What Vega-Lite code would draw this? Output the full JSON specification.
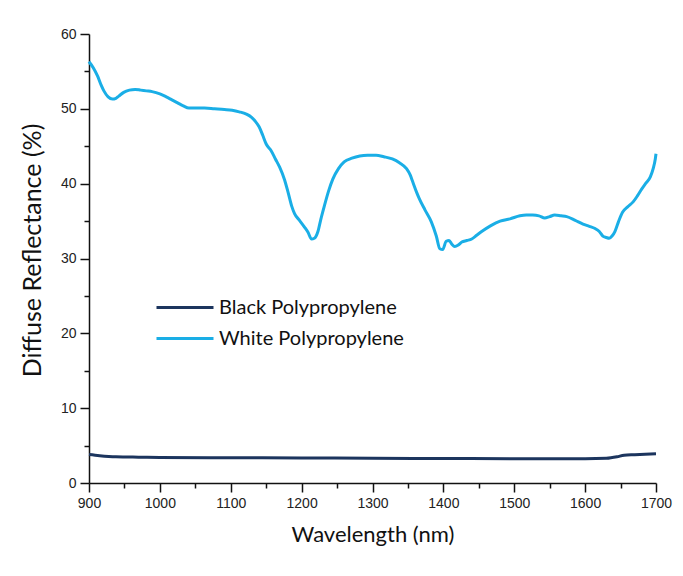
{
  "$schema": "https://vega.github.io/schema/vega-lite/v6.json",
  "width": 567,
  "height": 449,
  "autosize": {"type": "none"},
  "padding": {"left": 89, "top": 34, "right": 27, "bottom": 93},
  "background": "white",
  "config": {"view": {"stroke": null}},
  "datasets": {
    "spectra": [
      {"wl": 900, "r": 56.3, "s": "White Polypropylene"},
      {"wl": 906, "r": 55.5, "s": "White Polypropylene"},
      {"wl": 912, "r": 54.4, "s": "White Polypropylene"},
      {"wl": 917, "r": 53.2, "s": "White Polypropylene"},
      {"wl": 921, "r": 52.4, "s": "White Polypropylene"},
      {"wl": 927, "r": 51.6, "s": "White Polypropylene"},
      {"wl": 933, "r": 51.3, "s": "White Polypropylene"},
      {"wl": 938, "r": 51.4, "s": "White Polypropylene"},
      {"wl": 942, "r": 51.7, "s": "White Polypropylene"},
      {"wl": 949, "r": 52.2, "s": "White Polypropylene"},
      {"wl": 957, "r": 52.5, "s": "White Polypropylene"},
      {"wl": 965, "r": 52.6, "s": "White Polypropylene"},
      {"wl": 973, "r": 52.5, "s": "White Polypropylene"},
      {"wl": 981, "r": 52.4, "s": "White Polypropylene"},
      {"wl": 989, "r": 52.3, "s": "White Polypropylene"},
      {"wl": 1000, "r": 52.0, "s": "White Polypropylene"},
      {"wl": 1009, "r": 51.6, "s": "White Polypropylene"},
      {"wl": 1017, "r": 51.2, "s": "White Polypropylene"},
      {"wl": 1025, "r": 50.8, "s": "White Polypropylene"},
      {"wl": 1033, "r": 50.4, "s": "White Polypropylene"},
      {"wl": 1041, "r": 50.1, "s": "White Polypropylene"},
      {"wl": 1052, "r": 50.1, "s": "White Polypropylene"},
      {"wl": 1063, "r": 50.1, "s": "White Polypropylene"},
      {"wl": 1077, "r": 50.0, "s": "White Polypropylene"},
      {"wl": 1091, "r": 49.9, "s": "White Polypropylene"},
      {"wl": 1102, "r": 49.8, "s": "White Polypropylene"},
      {"wl": 1112, "r": 49.6, "s": "White Polypropylene"},
      {"wl": 1122, "r": 49.3, "s": "White Polypropylene"},
      {"wl": 1129, "r": 48.9, "s": "White Polypropylene"},
      {"wl": 1135, "r": 48.3, "s": "White Polypropylene"},
      {"wl": 1140, "r": 47.6, "s": "White Polypropylene"},
      {"wl": 1145, "r": 46.5, "s": "White Polypropylene"},
      {"wl": 1150, "r": 45.3, "s": "White Polypropylene"},
      {"wl": 1157, "r": 44.4, "s": "White Polypropylene"},
      {"wl": 1163, "r": 43.3, "s": "White Polypropylene"},
      {"wl": 1169, "r": 42.2, "s": "White Polypropylene"},
      {"wl": 1176, "r": 40.5, "s": "White Polypropylene"},
      {"wl": 1181, "r": 38.8, "s": "White Polypropylene"},
      {"wl": 1186, "r": 37.0, "s": "White Polypropylene"},
      {"wl": 1190, "r": 36.0, "s": "White Polypropylene"},
      {"wl": 1197, "r": 35.1, "s": "White Polypropylene"},
      {"wl": 1204, "r": 34.2, "s": "White Polypropylene"},
      {"wl": 1209, "r": 33.5, "s": "White Polypropylene"},
      {"wl": 1214, "r": 32.6, "s": "White Polypropylene"},
      {"wl": 1218, "r": 32.7, "s": "White Polypropylene"},
      {"wl": 1223, "r": 33.6, "s": "White Polypropylene"},
      {"wl": 1227, "r": 35.2, "s": "White Polypropylene"},
      {"wl": 1232, "r": 37.0, "s": "White Polypropylene"},
      {"wl": 1238, "r": 39.0, "s": "White Polypropylene"},
      {"wl": 1244, "r": 40.6, "s": "White Polypropylene"},
      {"wl": 1252, "r": 42.0, "s": "White Polypropylene"},
      {"wl": 1260, "r": 42.9, "s": "White Polypropylene"},
      {"wl": 1271, "r": 43.4, "s": "White Polypropylene"},
      {"wl": 1282, "r": 43.7, "s": "White Polypropylene"},
      {"wl": 1293, "r": 43.8, "s": "White Polypropylene"},
      {"wl": 1305, "r": 43.8, "s": "White Polypropylene"},
      {"wl": 1316, "r": 43.6, "s": "White Polypropylene"},
      {"wl": 1328, "r": 43.3, "s": "White Polypropylene"},
      {"wl": 1338, "r": 42.8, "s": "White Polypropylene"},
      {"wl": 1348, "r": 42.0, "s": "White Polypropylene"},
      {"wl": 1353, "r": 41.2, "s": "White Polypropylene"},
      {"wl": 1357, "r": 40.2, "s": "White Polypropylene"},
      {"wl": 1362, "r": 38.9, "s": "White Polypropylene"},
      {"wl": 1366, "r": 38.0, "s": "White Polypropylene"},
      {"wl": 1374, "r": 36.5, "s": "White Polypropylene"},
      {"wl": 1383, "r": 34.9, "s": "White Polypropylene"},
      {"wl": 1390, "r": 33.0, "s": "White Polypropylene"},
      {"wl": 1395, "r": 31.3, "s": "White Polypropylene"},
      {"wl": 1399, "r": 31.2, "s": "White Polypropylene"},
      {"wl": 1404, "r": 32.3, "s": "White Polypropylene"},
      {"wl": 1408, "r": 32.4, "s": "White Polypropylene"},
      {"wl": 1412, "r": 31.9, "s": "White Polypropylene"},
      {"wl": 1416, "r": 31.6, "s": "White Polypropylene"},
      {"wl": 1421, "r": 31.8, "s": "White Polypropylene"},
      {"wl": 1426, "r": 32.2, "s": "White Polypropylene"},
      {"wl": 1433, "r": 32.4, "s": "White Polypropylene"},
      {"wl": 1440, "r": 32.6, "s": "White Polypropylene"},
      {"wl": 1447, "r": 33.1, "s": "White Polypropylene"},
      {"wl": 1454, "r": 33.6, "s": "White Polypropylene"},
      {"wl": 1467, "r": 34.4, "s": "White Polypropylene"},
      {"wl": 1480, "r": 35.0, "s": "White Polypropylene"},
      {"wl": 1494, "r": 35.3, "s": "White Polypropylene"},
      {"wl": 1508, "r": 35.7, "s": "White Polypropylene"},
      {"wl": 1517, "r": 35.8, "s": "White Polypropylene"},
      {"wl": 1526, "r": 35.8, "s": "White Polypropylene"},
      {"wl": 1535, "r": 35.7, "s": "White Polypropylene"},
      {"wl": 1543, "r": 35.4, "s": "White Polypropylene"},
      {"wl": 1550, "r": 35.6, "s": "White Polypropylene"},
      {"wl": 1557, "r": 35.8, "s": "White Polypropylene"},
      {"wl": 1566, "r": 35.7, "s": "White Polypropylene"},
      {"wl": 1574, "r": 35.6, "s": "White Polypropylene"},
      {"wl": 1586, "r": 35.1, "s": "White Polypropylene"},
      {"wl": 1597, "r": 34.6, "s": "White Polypropylene"},
      {"wl": 1606, "r": 34.3, "s": "White Polypropylene"},
      {"wl": 1614, "r": 34.0, "s": "White Polypropylene"},
      {"wl": 1620, "r": 33.6, "s": "White Polypropylene"},
      {"wl": 1625, "r": 33.0, "s": "White Polypropylene"},
      {"wl": 1630, "r": 32.8, "s": "White Polypropylene"},
      {"wl": 1634, "r": 32.7, "s": "White Polypropylene"},
      {"wl": 1638, "r": 33.0, "s": "White Polypropylene"},
      {"wl": 1642, "r": 33.6, "s": "White Polypropylene"},
      {"wl": 1647, "r": 34.9, "s": "White Polypropylene"},
      {"wl": 1653, "r": 36.2, "s": "White Polypropylene"},
      {"wl": 1660, "r": 36.9, "s": "White Polypropylene"},
      {"wl": 1668, "r": 37.6, "s": "White Polypropylene"},
      {"wl": 1674, "r": 38.4, "s": "White Polypropylene"},
      {"wl": 1680, "r": 39.3, "s": "White Polypropylene"},
      {"wl": 1686, "r": 40.1, "s": "White Polypropylene"},
      {"wl": 1692, "r": 40.9, "s": "White Polypropylene"},
      {"wl": 1696, "r": 42.0, "s": "White Polypropylene"},
      {"wl": 1699, "r": 43.3, "s": "White Polypropylene"},
      {"wl": 1700, "r": 44.0, "s": "White Polypropylene"},
      {"wl": 900, "r": 3.8, "s": "Black Polypropylene"},
      {"wl": 915, "r": 3.65, "s": "Black Polypropylene"},
      {"wl": 938, "r": 3.5, "s": "Black Polypropylene"},
      {"wl": 970, "r": 3.45, "s": "Black Polypropylene"},
      {"wl": 1000, "r": 3.42, "s": "Black Polypropylene"},
      {"wl": 1100, "r": 3.38, "s": "Black Polypropylene"},
      {"wl": 1200, "r": 3.35, "s": "Black Polypropylene"},
      {"wl": 1300, "r": 3.3, "s": "Black Polypropylene"},
      {"wl": 1400, "r": 3.28, "s": "Black Polypropylene"},
      {"wl": 1500, "r": 3.25, "s": "Black Polypropylene"},
      {"wl": 1600, "r": 3.25, "s": "Black Polypropylene"},
      {"wl": 1630, "r": 3.3, "s": "Black Polypropylene"},
      {"wl": 1645, "r": 3.5, "s": "Black Polypropylene"},
      {"wl": 1655, "r": 3.72, "s": "Black Polypropylene"},
      {"wl": 1670, "r": 3.78, "s": "Black Polypropylene"},
      {"wl": 1700, "r": 3.9, "s": "Black Polypropylene"}
    ]
  },
  "data": {"name": "spectra"},
  "mark": {"type": "line", "strokeWidth": 3, "interpolate": "monotone", "clip": false},
  "encoding": {
    "x": {
      "field": "wl",
      "type": "quantitative",
      "scale": {"domain": [900, 1700], "nice": false, "zero": false},
      "axis": {
        "title": "Wavelength (nm)",
        "format": "d",
        "values": [900, 950, 1000, 1050, 1100, 1150, 1200, 1250, 1300, 1350, 1400, 1450, 1500, 1550, 1600, 1650, 1700],
        "labelExpr": "datum.value % 100 == 0 ? datum.label : ''",
        "grid": false,
        "domainColor": "#111",
        "domainWidth": 1.5,
        "tickColor": "#111",
        "tickWidth": 1.5,
        "tickSize": {"condition": {"test": "datum.value % 100 != 0", "value": 5}, "value": 9},
        "labelFont": "Liberation Sans",
        "labelFontSize": 14,
        "labelColor": "#222",
        "labelPadding": 4,
        "labelFlush": false,
        "titleFont": "Lato",
        "titleFontSize": 22,
        "titleFontWeight": "normal",
        "titleColor": "#111",
        "titlePadding": 14
      }
    },
    "y": {
      "field": "r",
      "type": "quantitative",
      "scale": {"domain": [0, 60], "nice": false},
      "axis": {
        "title": "Diffuse Reflectance (%)",
        "values": [0, 5, 10, 15, 20, 25, 30, 35, 40, 45, 50, 55, 60],
        "labelExpr": "datum.value % 10 == 0 ? datum.label : ''",
        "grid": false,
        "domainColor": "#111",
        "domainWidth": 1.5,
        "tickColor": "#111",
        "tickWidth": 1.5,
        "tickSize": {"condition": {"test": "datum.value % 10 != 0", "value": 5}, "value": 9},
        "labelFont": "Liberation Sans",
        "labelFontSize": 14,
        "labelColor": "#222",
        "labelPadding": 4,
        "labelFlush": false,
        "titleFont": "Lato",
        "titleFontSize": 25,
        "titleFontWeight": "normal",
        "titleColor": "#111",
        "titlePadding": 15,
        "titleY": 216
      }
    },
    "color": {
      "field": "s",
      "type": "nominal",
      "scale": {"domain": ["Black Polypropylene", "White Polypropylene"], "range": ["#1c355e", "#1aaee6"]},
      "legend": {
        "title": null,
        "orient": "none",
        "legendX": 66,
        "legendY": 258,
        "symbolType": "stroke",
        "symbolSize": 3249,
        "symbolStrokeWidth": 3,
        "labelFont": "Lato",
        "labelFontSize": 20,
        "labelLimit": 400,
        "labelColor": "#111",
        "labelOffset": 4,
        "clipHeight": 31,
        "rowPadding": 0
      }
    }
  }
}
